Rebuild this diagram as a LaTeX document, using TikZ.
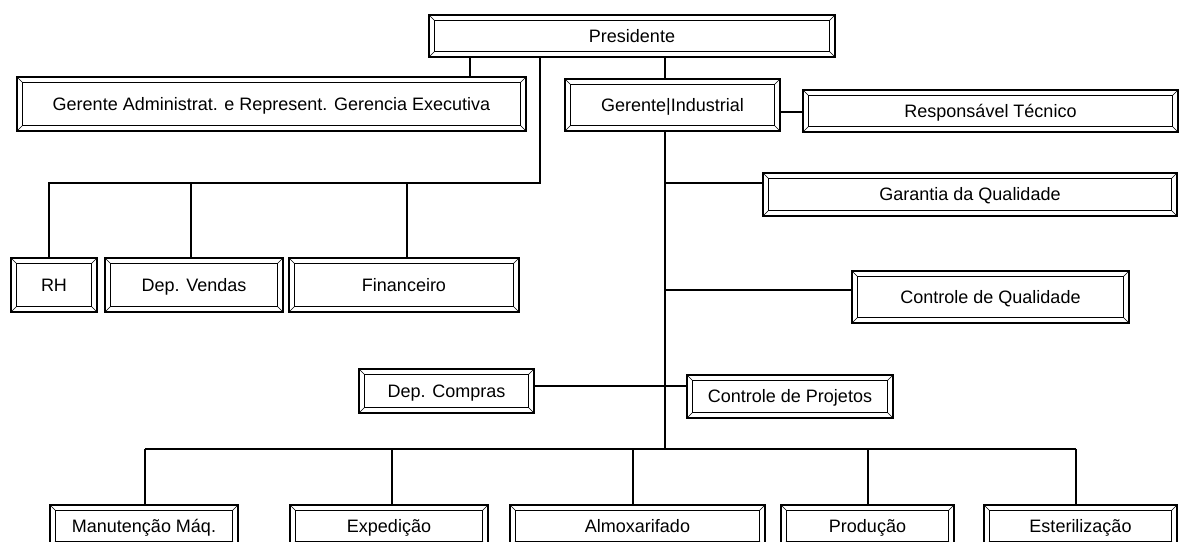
\documentclass[tikz,border=0pt]{standalone}
\usepackage{fontspec}
\setmainfont{Liberation Sans}
\begin{document}
\begin{tikzpicture}[x=1pt,y=-1pt,
  conn/.style={line width=1.3pt},
  orgbox/.style={draw, line width=1.1pt, fill=white, inner sep=0pt,
    text height=14.5pt, text depth=2.5pt,
    font=\fontsize{18}{20}\selectfont,
    path picture={
      % inner frame of the bevelled button
      \draw[line width=1.1pt]
        ([shift={(5.5pt,5.5pt)}]path picture bounding box.south west) rectangle
        ([shift={(-5.5pt,-5.5pt)}]path picture bounding box.north east);
      % bevel corners
      \draw[line width=0.5pt]
        (path picture bounding box.south west) -- ++(5.5pt,5.5pt)
        (path picture bounding box.north west) -- ++(5.5pt,-5.5pt)
        (path picture bounding box.north east) -- ++(-5.5pt,-5.5pt)
        (path picture bounding box.south east) -- ++(-5.5pt,5.5pt);
      % darker lower and right edges
      \draw[line width=3pt]
        (path picture bounding box.south west) --
        (path picture bounding box.south east) --
        (path picture bounding box.north east);
    }}]
\useasboundingbox (0,0) rectangle (1181,541);
\clip (0,0) rectangle (1181,541);

% top level
\node[orgbox, minimum width=406pt, minimum height=42pt] (pres) at (632,36) {Presidente};
\node[orgbox, minimum width=509pt, minimum height=54pt] (adm) at (271.5,104) {Gerente Administrat. e Represent. Gerencia Executiva};
\node[orgbox, minimum width=215pt, minimum height=52pt] (ind) at (672.5,105) {Gerente|Industrial};
\node[orgbox, minimum width=375pt, minimum height=42pt] (resp) at (990.5,111) {Responsável Técnico};

% administrative branch
\node[orgbox, minimum width=86pt, minimum height=54pt] (rh) at (54,285) {RH};
\node[orgbox, minimum width=178pt, minimum height=54pt] (vend) at (194,285) {Dep. Vendas};
\node[orgbox, minimum width=230pt, minimum height=54pt] (fin) at (404,285) {Financeiro};

% industrial branch
\node[orgbox, minimum width=414pt, minimum height=43pt] (gar) at (970,194.5) {Garantia da Qualidade};
\node[orgbox, minimum width=277pt, minimum height=52pt] (cq) at (990.5,297) {Controle de Qualidade};
\node[orgbox, minimum width=175pt, minimum height=44pt] (comp) at (446.5,391) {Dep. Compras};
\node[orgbox, minimum width=206pt, minimum height=43pt] (cp) at (790,396.5) {Controle de Projetos};

% bottom row
\node[orgbox, minimum width=188pt, minimum height=42pt] (man) at (144,526) {Manutenção Máq.};
\node[orgbox, minimum width=198pt, minimum height=42pt] (exp) at (389,526) {Expedição};
\node[orgbox, minimum width=255pt, minimum height=42pt] (alm) at (637.5,526) {Almoxarifado};
\node[orgbox, minimum width=173pt, minimum height=42pt] (prod) at (867.5,526) {Produção};
\node[orgbox, minimum width=193pt, minimum height=42pt] (est) at (1080.5,526) {Esterilização};

% junction columns and rows
\coordinate (xadm) at (470,0);
\coordinate (xadmbus) at (540,0);
\coordinate (trunk) at (665,0);
\coordinate (admbus) at (0,183);
\coordinate (xrh) at (49,0);
\coordinate (xvend) at (191,0);
\coordinate (xfin) at (407,0);
\coordinate (ygar) at (0,183);
\coordinate (yresp) at (0,112);
\coordinate (ycq) at (0,290);
\coordinate (ycomp) at (0,386);
\coordinate (botbus) at (0,449);
\coordinate (xman) at (145,0);
\coordinate (xexp) at (392,0);
\coordinate (xalm) at (633,0);
\coordinate (xprod) at (868,0);
\coordinate (xest) at (1076,0);

% connectors
\draw[conn] (pres.south -| xadm) -- (adm.north -| xadm);
\draw[conn] (pres.south -| xadmbus) -- (admbus -| xadmbus) -- (admbus -| xrh) -- (rh.north -| xrh);
\draw[conn] (admbus -| xvend) -- (vend.north -| xvend);
\draw[conn] (admbus -| xfin) -- (fin.north -| xfin);
\draw[conn] (pres.south -| trunk) -- (ind.north -| trunk);
\draw[conn] (ind.south -| trunk) -- (botbus -| trunk);
\draw[conn] (ind.east |- yresp) -- (resp.west |- yresp);
\draw[conn] (trunk |- ygar) -- (gar.west |- ygar);
\draw[conn] (trunk |- ycq) -- (cq.west |- ycq);
\draw[conn] (comp.east |- ycomp) -- (cp.west |- ycomp);
\draw[conn] (botbus -| xman) -- (botbus -| xest);
\draw[conn] (botbus -| xman) -- (man.north -| xman);
\draw[conn] (botbus -| xexp) -- (exp.north -| xexp);
\draw[conn] (botbus -| xalm) -- (alm.north -| xalm);
\draw[conn] (botbus -| xprod) -- (prod.north -| xprod);
\draw[conn] (botbus -| xest) -- (est.north -| xest);
\end{tikzpicture}
\end{document}
